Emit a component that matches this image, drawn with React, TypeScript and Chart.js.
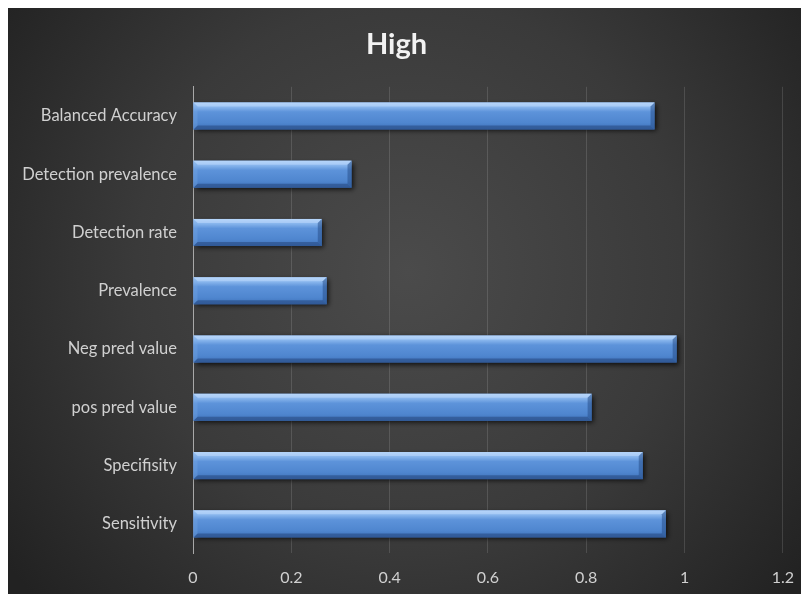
import React, { useEffect, useRef } from "react";
import { Chart, registerables } from "chart.js";

Chart.register(...registerables);

const titleText = "High";
const categories = [
  "Balanced Accuracy",
  "Detection prevalence",
  "Detection rate",
  "Prevalence",
  "Neg pred value",
  "pos pred value",
  "Specifisity",
  "Sensitivity",
];
const values = [0.939, 0.3225, 0.262, 0.272, 0.984, 0.811, 0.915, 0.962];
const xMin = 0;
const xMax = 1.2;
const xStep = 0.2;

const FONT = "Lato, 'Open Sans', sans-serif";

const bgPlugin = {
  id: "bgPlugin",
  beforeDraw(chart: any) {
    const { ctx, width, height } = chart;
    const cx = width * 0.5;
    const cy = height * 0.45;
    const r = Math.hypot(width, height) / 2;
    const g = ctx.createRadialGradient(cx, cy, 0, cx, cy, r);
    g.addColorStop(0, "#4b4b4b");
    g.addColorStop(0.55, "#3a3a3a");
    g.addColorStop(1, "#222222");
    ctx.save();
    ctx.fillStyle = g;
    ctx.fillRect(0, 0, width, height);
    ctx.restore();
  },
};

const bevelPlugin = {
  id: "bevelPlugin",
  afterDatasetsDraw(chart: any) {
    const { ctx } = chart;
    const meta = chart.getDatasetMeta(0);
    meta.data.forEach((el: any) => {
      const p = el.getProps(["x", "y", "base", "height"], true);
      const left = Math.min(p.base, p.x);
      const right = Math.max(p.base, p.x);
      const top = p.y - p.height / 2;
      const bottom = p.y + p.height / 2;
      const w = right - left;
      const h = bottom - top;
      const b = 4;
      ctx.save();
      ctx.shadowColor = "rgba(0,0,0,0.75)";
      ctx.shadowBlur = 5;
      ctx.shadowOffsetX = 2;
      ctx.shadowOffsetY = 2;
      const g = ctx.createLinearGradient(0, top, 0, bottom);
      g.addColorStop(0, "#a9cdf6");
      g.addColorStop(0.18, "#86b4ec");
      g.addColorStop(0.35, "#5d93da");
      g.addColorStop(0.75, "#4f86cf");
      g.addColorStop(1, "#3f72b9");
      ctx.fillStyle = g;
      ctx.fillRect(left, top, w, h);
      ctx.restore();

      ctx.save();
      ctx.beginPath();
      ctx.moveTo(left, top);
      ctx.lineTo(right, top);
      ctx.lineTo(right - b, top + b);
      ctx.lineTo(left + b, top + b);
      ctx.closePath();
      ctx.fillStyle = "rgba(200,225,255,0.45)";
      ctx.fill();
      ctx.beginPath();
      ctx.moveTo(left, bottom);
      ctx.lineTo(right, bottom);
      ctx.lineTo(right - b, bottom - b);
      ctx.lineTo(left + b, bottom - b);
      ctx.closePath();
      ctx.fillStyle = "rgba(30,60,110,0.45)";
      ctx.fill();
      ctx.beginPath();
      ctx.moveTo(right, top);
      ctx.lineTo(right, bottom);
      ctx.lineTo(right - b, bottom - b);
      ctx.lineTo(right - b, top + b);
      ctx.closePath();
      ctx.fillStyle = "rgba(40,80,140,0.55)";
      ctx.fill();
      ctx.beginPath();
      ctx.moveTo(left, top);
      ctx.lineTo(left, bottom);
      ctx.lineTo(left + b, bottom - b);
      ctx.lineTo(left + b, top + b);
      ctx.closePath();
      ctx.fillStyle = "rgba(120,170,230,0.35)";
      ctx.fill();
      ctx.restore();
    });
  },
};

export default function App() {
  const ref = useRef<HTMLCanvasElement | null>(null);

  useEffect(() => {
    if (!ref.current) return;
    const chart = new Chart(ref.current, {
      type: "bar",
      data: {
        labels: categories,
        datasets: [
          {
            data: values,
            backgroundColor: "#5488d2",
            borderWidth: 0,
            barPercentage: 0.465,
            categoryPercentage: 1,
          },
        ],
      },
      options: {
        indexAxis: "y",
        animation: false,
        responsive: true,
        maintainAspectRatio: false,
        layout: { padding: { left: 0, right: 24, top: 0, bottom: 0 } },
        plugins: {
          legend: { display: false },
          tooltip: { enabled: false },
          title: {
            display: true,
            text: titleText,
            color: "#f2f2f2",
            font: { family: FONT, size: 29, weight: "bold" },
            padding: { top: 19, bottom: 25 },
          },
        },
        scales: {
          x: {
            min: xMin,
            max: xMax,
            ticks: {
              stepSize: xStep,
              color: "#d0d0d0",
              font: { family: FONT, size: 16 },
              padding: 15,
              callback: (v: any) => String(Math.round(Number(v) * 10) / 10),
            },
            grid: {
              color: "rgba(255,255,255,0.13)",
              drawTicks: false,
            },
            border: { display: false },
            afterFit: (scale: any) => {
              scale.height = 41;
            },
          },
          y: {
            ticks: {
              color: "#d0d0d0",
              font: { family: FONT, size: 16.5 },
              padding: 16,
            },
            grid: { display: false, drawTicks: false },
            border: { display: true, color: "#a8a8a8", width: 1 },
            afterFit: (scale: any) => {
              scale.width = 185;
            },
          },
        },
      },
      plugins: [bgPlugin, bevelPlugin],
    });
    return () => chart.destroy();
  }, []);

  return (
    <div style={{ width: 801, height: 586 }}>
      <canvas ref={ref} />
    </div>
  );
}
